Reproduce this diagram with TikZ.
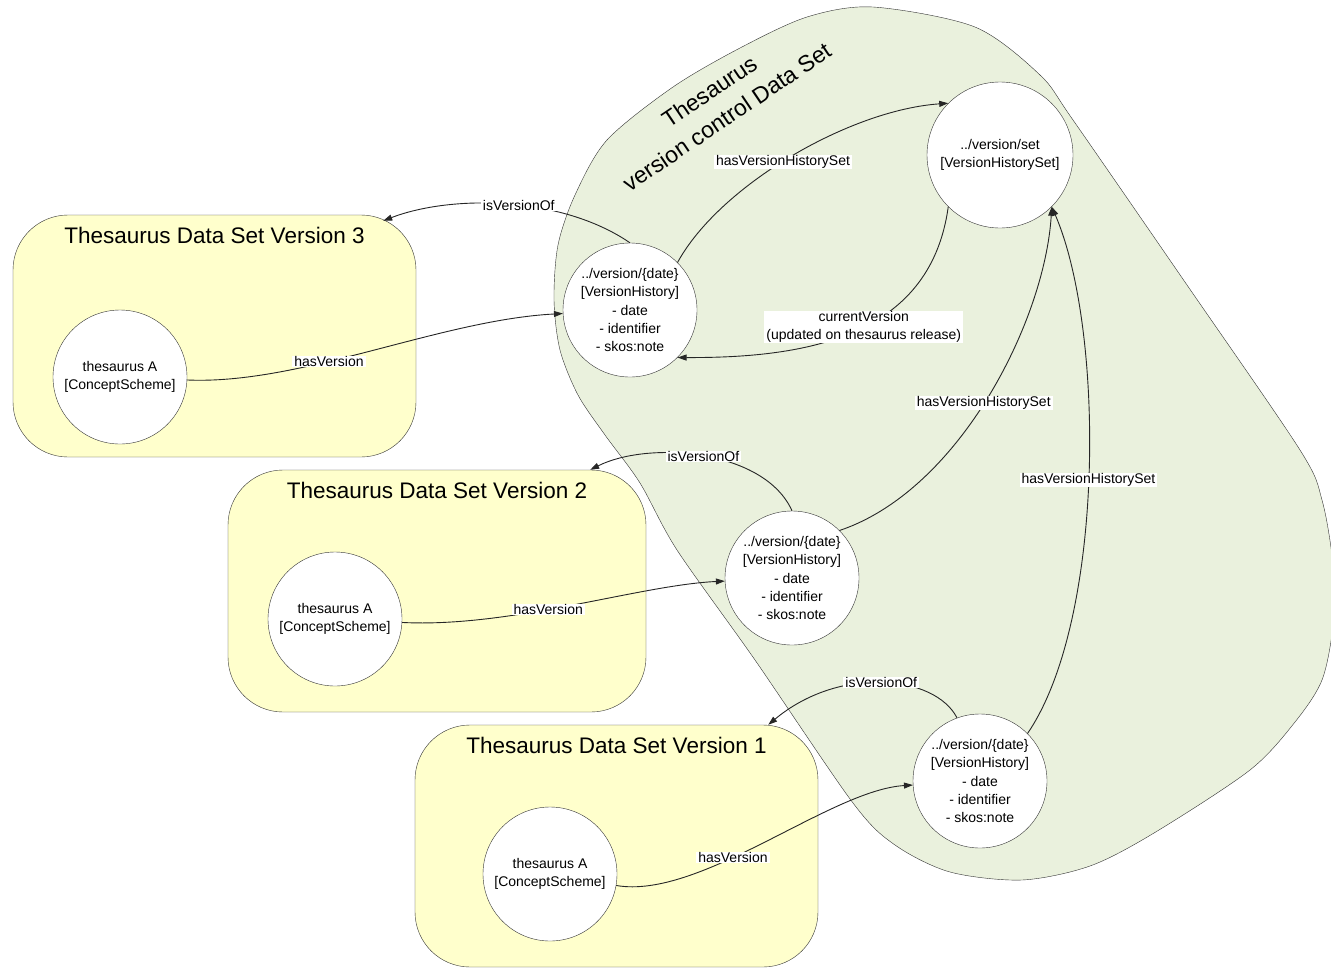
\documentclass[tikz,border=0pt]{standalone}
\usepackage{fontspec}
\setmainfont{Liberation Sans}
\usetikzlibrary{arrows.meta,positioning}
\definecolor{dsyellow}{RGB}{255,255,204}
\definecolor{vcgreen}{RGB}{234,241,221}

\begin{document}
\begin{tikzpicture}[x=1pt,y=-1pt]
    \tikzstyle{dataset}=[draw=black!80, fill=dsyellow, rounded corners=55pt, minimum width=403pt, minimum height=242pt, inner sep=0pt]
    \tikzstyle{dstitle}=[font=\fontsize{22.5}{27}\selectfont, inner sep=0pt]
    \tikzstyle{settitle}=[font=\fontsize{23}{31}\selectfont, align=center, rotate=34, inner sep=0pt]
    \tikzstyle{res}=[circle, draw=black!80, fill=white, minimum size=134pt, inner sep=0pt, align=center, font=\fontsize{14}{18.3}\selectfont]
    \tikzstyle{lbl}=[fill=white, inner xsep=2pt, inner ysep=0.5pt, align=center, font=\fontsize{14}{18}\selectfont]
    \def\vcblob{plot[smooth cycle] coordinates {(873,7) (975,27) (1040,75) (1073,120) (1187,285) (1300,450) (1322,500) (1333,565) (1333,625) (1322,680) (1295,722) (1250,770) (1154,833) (1090,866) (1022,880) (950,872) (895,845) (853,803) (755,660) (677,550) (640,483) (605,435) (578,395) (560,350) (554,300) (558,245) (575,195) (607,140) (673,87) (740,48) (807,17)}}

    \useasboundingbox (0,0) rectangle (1331,967);

    % version control data set
    \fill[vcgreen] \vcblob;

    \node[dataset] (ds3) at (214.5,336) {};
    \node[dataset, minimum width=418pt] (ds2) at (437,591) {};
    \node[dataset] (ds1) at (616.5,846) {};
    \node[dstitle] (ds3t) at ([yshift=-21pt]ds3.north) {Thesaurus Data Set Version 3};
    \node[dstitle] (ds2t) at ([yshift=-21pt]ds2.north) {Thesaurus Data Set Version 2};
    \node[dstitle] (ds1t) at ([yshift=-21pt]ds1.north) {Thesaurus Data Set Version 1};

    \draw[black!80] \vcblob;
    \node[settitle] (vct) at (718,104) {Thesaurus\\version control Data Set};

    \node[res] (cs3) at (120,377) {thesaurus A\\{[}ConceptScheme{]}};
    \node[res] (cs2) at (335,619) {thesaurus A\\{[}ConceptScheme{]}};
    \node[res] (cs1) at (550,874) {thesaurus A\\{[}ConceptScheme{]}};

    \node[res] (vh3) at (630,310) {../version/\{date\}\\{[}VersionHistory{]}\\- date\\- identifier\\- skos:note};
    \node[res] (vh2) at (792,578) {../version/\{date\}\\{[}VersionHistory{]}\\- date\\- identifier\\- skos:note};
    \node[res] (vh1) at (980,781) {../version/\{date\}\\{[}VersionHistory{]}\\- date\\- identifier\\- skos:note};
    \node[res, minimum size=146pt] (vhs) at (1000,155) {../version/set\\{[}VersionHistorySet{]}};

    \tikzstyle{rel}=[-{Triangle[length=9pt,width=6pt]}, draw=black!85, line width=0.9pt]

          \draw[rel] (vh3.north) .. controls (560,195) and (450,195) .. ([xshift=-33pt,yshift=-6pt]ds3.north east) node[lbl,pos=0.45] {isVersionOf};
          \draw[rel] (cs3) .. controls (300,385) and (440,320) .. (vh3) node[lbl,pos=0.39] {hasVersion};
          \draw[rel] (vh3.45) .. controls (720,185) and (850,110) .. (vhs.135) node[lbl,pos=0.47] {hasVersionHistorySet};
          \draw[rel] (vhs.225) .. controls (930,340) and (800,358) .. (vh3.-45) node[lbl,pos=0.46] {currentVersion\\(updated on thesaurus release)};

          \draw[rel] (vh2.north) .. controls (765,450) and (650,440) .. ([xshift=-56pt]ds2.north east) node[lbl,pos=0.5] {isVersionOf};
          \draw[rel] (cs2) .. controls (510,628) and (640,585) .. (vh2) node[lbl,pos=0.43] {hasVersion};
          \draw[rel] (vh2.45) .. controls (960,490) and (1045,320) .. (vhs.-45) node[lbl,pos=0.48] {hasVersionHistorySet};

          \draw[rel] (vh1.110) .. controls (935,675) and (840,665) .. ([xshift=-50pt]ds1.north east) node[lbl,pos=0.5] {isVersionOf};
          \draw[rel] (cs1) .. controls (700,900) and (830,790) .. (vh1) node[lbl,pos=0.4] {hasVersion};
          \draw[rel] (vh1.45) .. controls (1105,620) and (1105,330) .. (vhs.-45) node[lbl,pos=0.49] {hasVersionHistorySet};
\end{tikzpicture}
\end{document}
